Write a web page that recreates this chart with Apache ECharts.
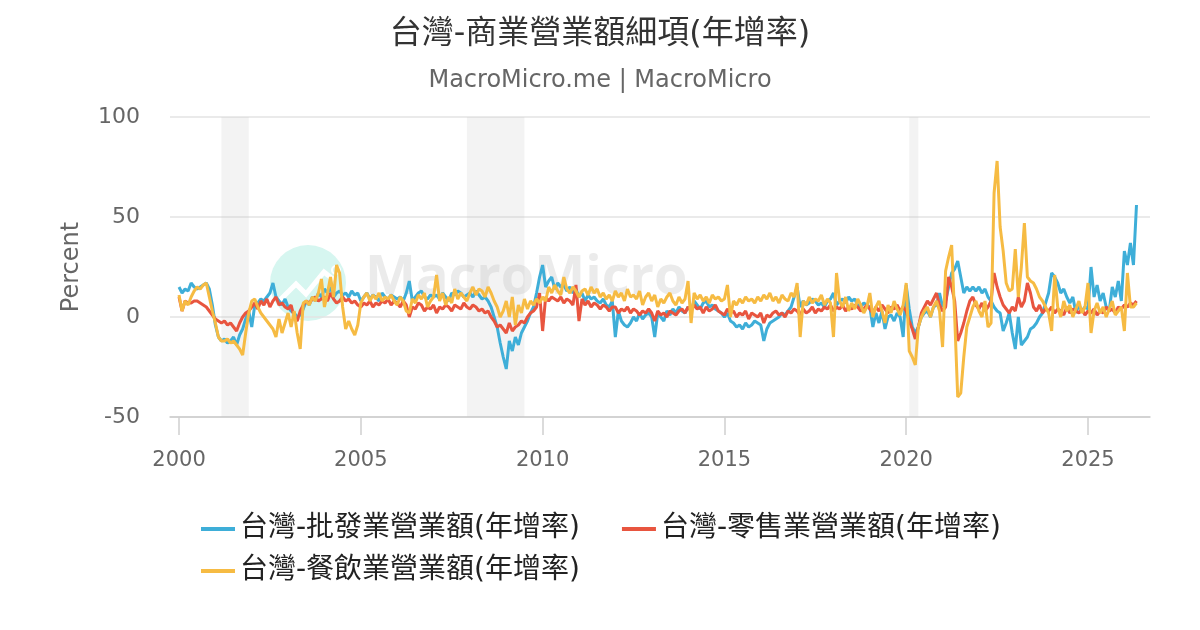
<!DOCTYPE html>
<html>
<head>
<meta charset="utf-8">
<script src="https://cdn.jsdelivr.net/npm/echarts@6/dist/echarts.min.js"></script>
<style>html,body{margin:0;padding:0;background:#fff;}#c{width:1200px;height:630px;}</style>
</head>
<body>
<div id="c"></div>
<script>
// Monthly data starting 2000-01
const startYear = 2000;
const seriesNames = ['台灣-批發業營業額(年增率)', '台灣-零售業營業額(年增率)', '台灣-餐飲業營業額(年增率)'];
const xTicks = [2000, 2005, 2010, 2015, 2020, 2025];
const yTicks = [-50, 0, 50, 100];
const recessions = [[2001 + 2/12, 2001 + 11/12], [2007 + 11/12, 2009 + 6/12], [2020 + 1/12, 2020 + 4/12]];

const wholesale = [
  15, 12, 14, 13, 17, 15, 14, 15, 16, 17, 14, 6,
  -4, -10, -12, -11, -13, -12, -10, -14, -9, -6, -1, 3,
  -5, 6, 7, 9, 8, 10, 12, 17, 10, 8, 6, 9,
  5, 3, 2, 0, 1, 4, 8, 6, 10, 8, 12, 10,
  14, 12, 15, 10, 12, 13, 11, 12, 10, 13, 11, 12,
  8, 10, 12, 9, 11, 10, 8, 12, 10, 9, 11, 10,
  9, 10, 8, 12, 18, 8, 10, 12, 13, 10, 9, 11,
  10, 11, 9, 12, 10, 8, 12, 11, 13, 12, 10, 11,
  12, 10, 13, 11, 9, 10, 8, 5, 0, -5, -13, -20,
  -26, -12, -17, -10, -14, -8, -5, -2, 2, 5, 12, 20,
  26, 15, 18, 20, 14, 17, 15, 16, 13, 15, 12, 14,
  10, 12, 8, 11, 9, 10, 8, 7, 9, 6, 5, 8,
  -10, 3, -2, -4, -5, -3, 0, -2, 2, -1, 1, 2,
  0, -10, 2, 0, -2, 3, 1, 4, 2, 5, 3, 2,
  5, 3, 8, 6, 4, 7, 8, 5, 6, 4, 3, 2,
  0, 2, -2, -3, -5, -4, -6, -3, -5, -4, -2, -3,
  -4, -12, -6, -3, -2, -1, 0, 2, 1, 3, 5, 10,
  15, 5, 8, 6, 7, 9, 8, 6, 7, 5, 8, 9,
  12, 6, 8, 9, 7, 10, 8, 9, 6, 5, 7, 6,
  5, -5, 2, -3, 3, -6, 0, 1, -2, 2, 0, -10,
  16, 4, -5, -8, -5, 0, 2, 3, 0, 5, 6, 12,
  5, 8, 15, 22, 24, 28, 20, 12, 15, 13, 15, 13,
  15, 12, 14, 10, 8, 5, 3, 2, -7, -3, 2, -8,
  -16, 0, -14, -12, -10, -6, -5, -3, 0, 2, 7, 12,
  22, 20, 17, 12, 14, 10, 7, 10, 2, 6, 3, 5,
  4, 25, 10, 16, 8, 12, 5, 3, 15, 10, 18, 8,
  33, 26, 37, 26, 56
];

const retail = [
  10, 3, 8, 7, 7, 8, 8, 7, 6, 5, 3, 1,
  -1, -2, -3, -2, -4, -3, -5, -7, -3, 0, 2, 3,
  5, 7, 4, 8, 6, 9, 5, 8, 10, 6, 7, 5,
  4, 6, 0, -2, 3, 6, 8, 7, 9, 10, 8, 9,
  10, 8, 12, 9, 7, 8, 10, 8, 9, 7, 8, 6,
  5, 7, 6, 8, 5, 7, 6, 8, 7, 9, 6, 8,
  7, 5, 8, 6, 0, 5, 4, 7, 6, 3, 5, 4,
  6, 2, 5, 4, 6, 5, 3, 6, 5, 4, 7, 5,
  4, 6, 5, 3, 4, 2, 3, 0, -2, -5, -4, -6,
  -8, -3, -7, -5, -4, -2, -3, 0, 2, 3, 5, 12,
  -7, 10, 8, 10, 9, 8, 10, 7, 9, 8, 6, 16,
  -2, 9, 6, 8, 5, 7, 6, 4, 6, 5, 3, 5,
  5, 2, 4, 3, 5, 2, 4, 3, 1, 3, 2, 4,
  2, -2, 3, 1, 2, 0, 3, 2, 1, 3, 4, 2,
  5, 3, 6, 4, 5, 2, 5, 3, 4, 6, 3, 2,
  1, 4, 2, 3, 0, 2, 1, 3, -1, 2, 1, 0,
  2, -3, 1, 0, 2, 3, 1, 2, 0, 3, 2, 4,
  3, 1, 4, 2, 3, 5, 2, 4, 3, 5, 4, 6,
  3, 5, 4, 6, 3, 5, 4, 6, 5, 3, 4, 6,
  4, 2, 5, 3, 6, 4, 2, 5, 4, 6, 3, 5,
  3, -2, -6, -11, -5, 2, 5, 8, 6, 9, 12, 6,
  3, 5, 20, 15, 8, -12, -8, -3, 3, 8, 10, 6,
  4, 7, 3, 5, 8, 22, 15, 10, 6, 4, 2, 5,
  3, 10, 5, 8, 17, 12, 5, 3, 6, 2, 4, 3,
  5, 2, 4, 3, 1, 5, 2, 4, 3, 2, 4, 1,
  3, 2, 4, 1, 3, 2, 5, 3, 4, 2, 5, 4,
  6, 5, 7, 6, 8
];

const food = [
  11, 3, 8, 6, 10, 13, 15, 14, 16, 17, 10, 3,
  -3, -10, -12, -12, -11, -13, -12, -14, -16, -19, -8, 2,
  8, 9, 5, 2, 0, -2, -4, -6, -10, -1, -8, -3,
  2, -5, 3, -8, -16, 7, 8, 6, 10, 8, 12, 19,
  5, 12, 20, 10, 26, 22, 5, -6, -2, -6, -9, -4,
  7, 10, 12, 8, 11, 9, 12, 8, 10, 9, 11, 8,
  6, 10, 8, 3, 2, 9, 7, 11, 9, 12, 5, 8,
  10, 21, 8, 12, 6, 10, 7, 14, 9, 12, 10, 8,
  12, 15, 11, 14, 13, 10, 15, 12, 8, 5, 0, 3,
  8, 0, 10, -4, 6, 2, 9, 4, 8, 6, 9, 7,
  10, 8, 15, 12, 16, 13, 11, 20, 14, 12, 15, 13,
  10, 13, 14, 11, 15, 12, 14, 10, 12, 9, 11, 8,
  13, 10, 12, 8, 14, 10, 11, 9, 13, 6, 10, 12,
  8, 11, 5, 9, 7, 10, 12, 8, 6, 10, 7, 9,
  18, -3, 12, 9, 11, 8, 10, 7, 11, 9, 10, 8,
  9, 16, 0, 8, 6, 9, 7, 10, 8, 9, 7, 10,
  8, 11, 9, 12, 8, 10, 7, 11, 9, 8, 12, 10,
  17, -10, 8, 6, 10, 7, 9, 8, 11, 6, 9, 7,
  -10, 22, 8, 5, 10, 3, 7, 4, 9, 6, 2, 5,
  12, 0, 5, 8, 3, -3, 6, 2, 8, 4, 1, 6,
  17, -17, -20, -24, -5, 0, 3, 5, 0, 5, 8, 3,
  -15, 23, 30, 36, 0, -40, -38, -20, -5, 0, 5, 8,
  3, 0, 8, -5, -3, 62, 78, 45, 33, 17, 13, 14,
  34, 10, 25, 47, 20, 18, 17, 14, 10, 8, 5, 2,
  -7, 21, 5, 0, 8, 3, 6, 0, 4, 8, 2, 5,
  17, -8, 3, 7, 2, 5, 0, 4, 8, 1, 3, 5,
  -7, 22, 5, 5, 7
];

const colors = ['#3eaed8', '#e8553f', '#f6bb43'];

function toPairs(arr) {
  return arr.map((v, i) => [startYear + i / 12, v]);
}

const chart = echarts.init(document.getElementById('c'));
const ff = "'DejaVu Sans', 'Noto Sans CJK TC', sans-serif";

const option = {
  animation: false,
  backgroundColor: '#fff',
  title: {
    text: '台灣-商業營業額細項(年增率)',
    subtext: 'MacroMicro.me | MacroMicro',
    left: 'center',
    top: 14,
    itemGap: 18,
    textStyle: { fontSize: 32, fontWeight: 'normal', color: '#333', fontFamily: ff },
    subtextStyle: { fontSize: 24, color: '#666', fontFamily: ff }
  },
  legend: [
    {
      data: [seriesNames[0], seriesNames[1]],
      left: 196, top: 510, itemGap: 42, itemWidth: 34, itemHeight: 4, icon: 'rect',
      textStyle: { fontSize: 28, color: '#222', fontFamily: ff }
    },
    {
      data: [seriesNames[2]],
      left: 196, top: 552, itemGap: 42, itemWidth: 34, itemHeight: 4, icon: 'rect',
      textStyle: { fontSize: 28, color: '#222', fontFamily: ff }
    }
  ],
  grid: { left: 170, right: 50, top: 117, bottom: 213 },
  xAxis: {
    type: 'value',
    min: 1999.752,
    max: 2026.705,
    axisLine: { onZero: false, lineStyle: { color: '#cccccc', width: 1.5 } },
    axisTick: { show: true, length: 18, lineStyle: { color: '#d0d0d0', width: 1.5 }, customValues: xTicks },
    axisLabel: { customValues: xTicks, fontSize: 21, color: '#666', margin: 33, fontFamily: ff, formatter: v => String(Math.round(v)) },
    splitLine: { show: false }
  },
  yAxis: {
    type: 'value',
    min: -50, max: 100, interval: 50,
    name: 'Percent',
    nameLocation: 'middle',
    nameGap: 86,
    nameTextStyle: { fontSize: 24, color: '#666', fontFamily: ff },
    axisLine: { show: false },
    axisTick: { show: false },
    axisLabel: { fontSize: 22, color: '#666', margin: 30, fontFamily: ff },
    splitLine: { lineStyle: { color: '#e3e3e3', width: 1.5 } }
  },
  graphic: [
    { type: 'circle', z: 0, silent: true, shape: { cx: 308, cy: 283, r: 38 }, style: { fill: '#d6f6f0' } },
    { type: 'polyline', z: 0, silent: true, shape: { points: [[280, 300], [296, 284], [306, 294], [324, 272], [334, 280]] }, style: { stroke: '#fff', lineWidth: 5, fill: null } },
    { type: 'circle', z: 0, silent: true, shape: { cx: 336, cy: 270, r: 4 }, style: { fill: null, stroke: '#fff', lineWidth: 2 } },
    { type: 'text', z: 0, silent: true, left: 365, top: 252, style: { text: 'MacroMicro', fontSize: 54, fontWeight: 'bold', fill: 'rgba(190,190,190,0.3)', fontFamily: "'Open Sans', sans-serif" } }
  ],
  series: [
    {
      name: seriesNames[0], type: 'line', data: toPairs(wholesale), showSymbol: false,
      lineStyle: { width: 3, color: colors[0] }, itemStyle: { color: colors[0] },
      markArea: {
        silent: true,
        itemStyle: { color: 'rgba(200,200,200,0.22)' },
        data: recessions.map(r => [{ xAxis: r[0] }, { xAxis: r[1] }])
      }
    },
    {
      name: seriesNames[1], type: 'line', data: toPairs(retail), showSymbol: false,
      lineStyle: { width: 3, color: colors[1] }, itemStyle: { color: colors[1] }
    },
    {
      name: seriesNames[2], type: 'line', data: toPairs(food), showSymbol: false,
      lineStyle: { width: 3, color: colors[2] }, itemStyle: { color: colors[2] }
    }
  ]
};
chart.setOption(option);
</script>
</body>
</html>
